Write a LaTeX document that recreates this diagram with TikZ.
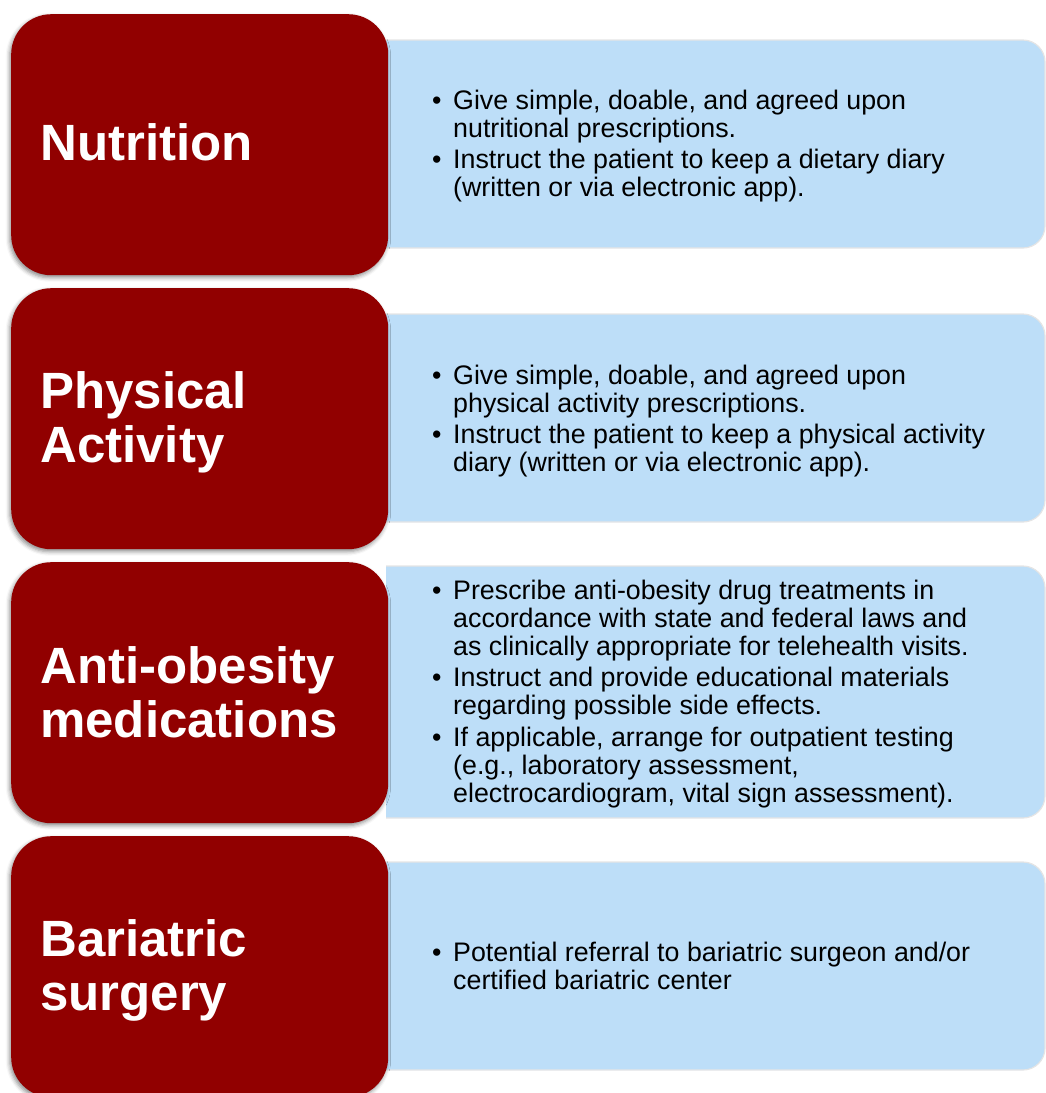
\documentclass[tikz,border=0pt]{standalone}
\usepackage{fontspec}
\setmainfont{Liberation Sans}
\usetikzlibrary{shadows.blur}
\definecolor{boxred}{RGB}{145,0,0}
\definecolor{boxblue}{RGB}{189,222,248}
\tikzset{
  redbox/.style={fill=boxred, rounded corners=40pt, minimum width=377pt, minimum height=261pt,
    anchor=north west, inner sep=0pt,
    blur shadow={shadow xshift=-1.5pt, shadow yshift=-2.5pt, shadow blur radius=4pt, shadow opacity=45}},
  bluebox/.style={fill=boxblue, draw=black!10, line width=1.2pt, rounded corners=22pt},
  titletext/.style={anchor=base west, inner sep=0pt, text=white, font=\fontsize{51}{54}\selectfont\bfseries},
  bullettext/.style={anchor=base west, inner sep=0pt, text=black, font=\fontsize{26.8}{28}\selectfont},
}
\newcommand{\ttlines}[1]{\begin{tabular}[t]{@{}l@{}}#1\end{tabular}}
\newcommand{\bllines}[1]{\begin{tabular}[t]{@{}p{21pt}@{}l@{}}#1\end{tabular}}
\begin{document}
\begin{tikzpicture}[x=1pt,y=-1pt]
\useasboundingbox (0,0) rectangle (1046,1093);
% blue panels (right corners rounded, left edge hidden by the red boxes)
\draw[bluebox] (386,40) -- (1045,40) -- (1045,248) -- (386,248);
\draw[bluebox] (386,314) -- (1045,314) -- (1045,522) -- (386,522);
\draw[bluebox] (386,566) -- (1045,566) -- (1045,818) -- (386,818);
\draw[bluebox] (386,862) -- (1045,862) -- (1045,1070) -- (386,1070);
% red boxes
\node[redbox] (r1) at (11,14) {};
\node[redbox] (r2) at (11,288) {};
\node[redbox] (r3) at (11,562) {};
\node[redbox] (r4) at (11,836) {};
% titles
\node[titletext] (t1) at (40,160) {\ttlines{Nutrition}};
\node[titletext] (t2) at (40,408) {\ttlines{Physical\\Activity}};
\node[titletext] (t3) at (40,683) {\ttlines{Anti-obesity\\medications}};
\node[titletext] (t4) at (40,956) {\ttlines{Bariatric\\surgery}};
% bullets
\node[bullettext] (x1) at (432,109) {\bllines{
  • & Give simple, doable, and agreed upon\\
    & nutritional prescriptions.\\[3pt]
  • & Instruct the patient to keep a dietary diary\\
    & (written or via electronic app).}};
\node[bullettext] (x2) at (432,384) {\bllines{
  • & Give simple, doable, and agreed upon\\
    & physical activity prescriptions.\\[3pt]
  • & Instruct the patient to keep a physical activity\\
    & diary (written or via electronic app).}};
\node[bullettext] (x3) at (432,599) {\bllines{
  • & Prescribe anti-obesity drug treatments in\\
    & accordance with state and federal laws and\\
    & as clinically appropriate for telehealth visits.\\[3.5pt]
  • & Instruct and provide educational materials\\
    & regarding possible side effects.\\[3.5pt]
  • & If applicable, arrange for outpatient testing\\
    & (e.g., laboratory assessment,\\
    & electrocardiogram, vital sign assessment).}};
\node[bullettext] (x4) at (432,961) {\bllines{
  • & Potential referral to bariatric surgeon and/or\\
    & certified bariatric center}};
\end{tikzpicture}
\end{document}
